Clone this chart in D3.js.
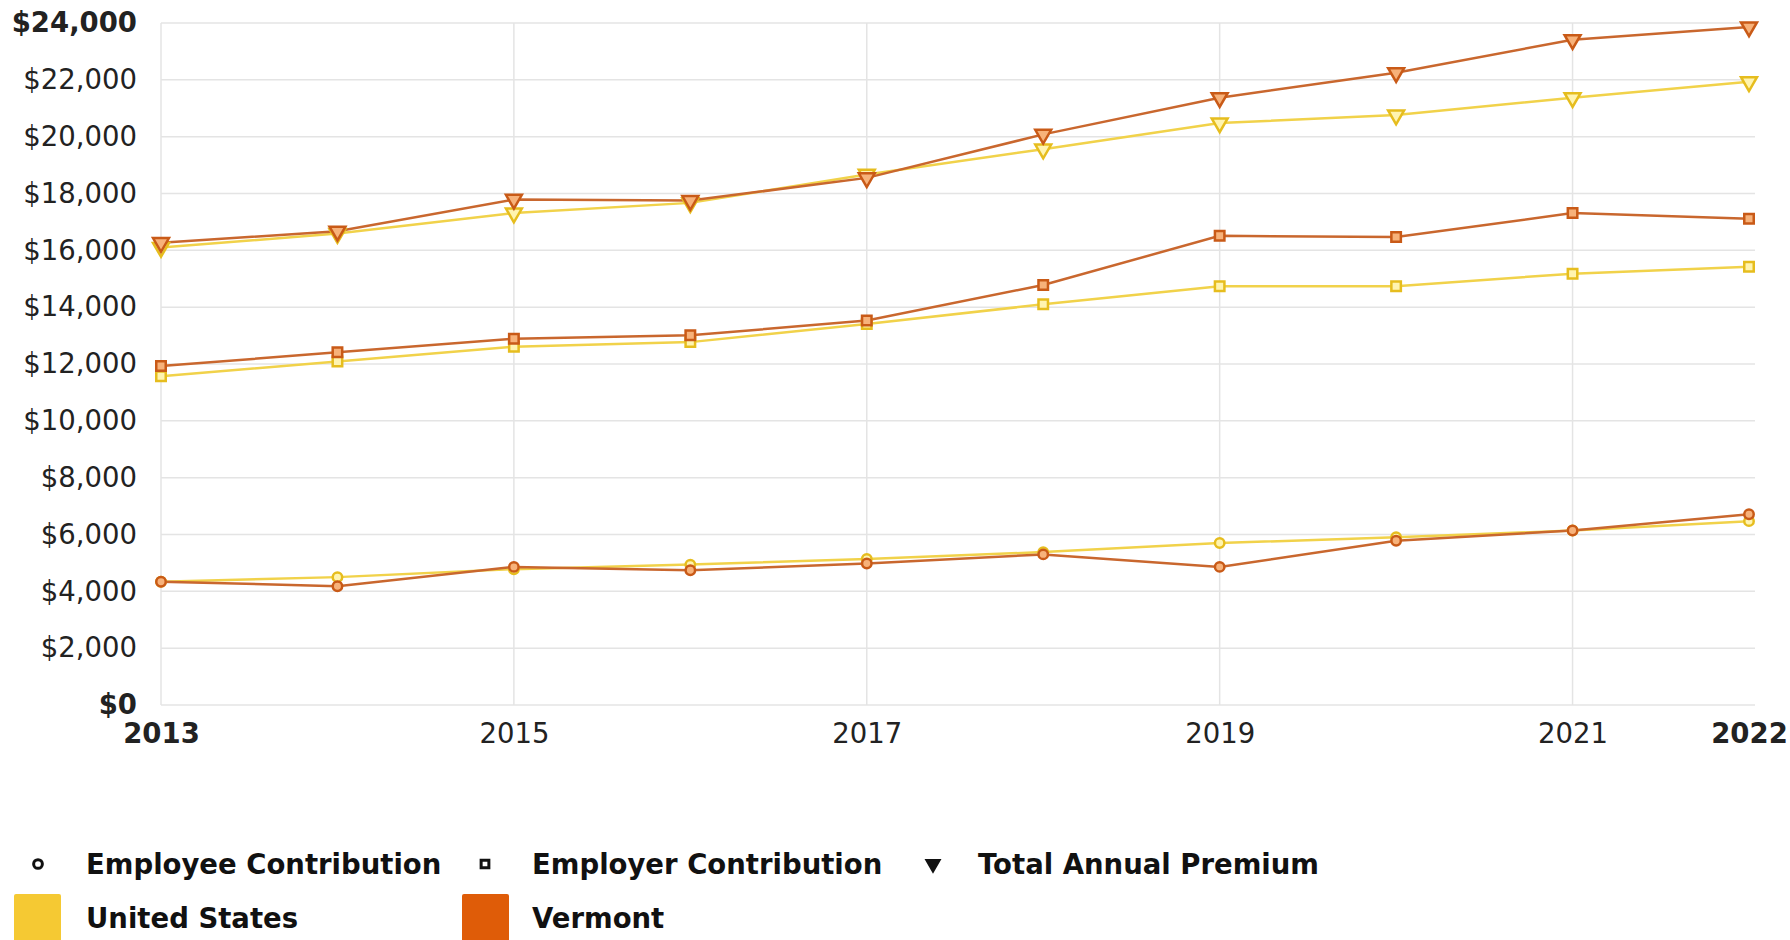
<!DOCTYPE html>
<html>
<head>
<meta charset="utf-8">
<script src="https://cdn.jsdelivr.net/npm/d3@7"></script>
<style>
    body { margin: 0; background: #fff; }
    svg { display: block; font-family: "DejaVu Sans", sans-serif; }
    .gridLine { stroke: #e4e4e4; stroke-width: 1.5; }
    .tickText { fill: #222; font-size: 27.5px; font-family: "DejaVu Sans", sans-serif; }
    .legendText { fill: #111; font-size: 27.5px; font-weight: bold; }
</style>
</head>
<body>
<div id="chartContainer"></div>
<script>
/***** Chart values */

const years = [2013, 2014, 2015, 2016, 2017, 2018, 2019, 2020, 2021, 2022];
const xTickYears = [2013, 2015, 2017, 2019, 2021, 2022];
const yTickValues = [0, 2000, 4000, 6000, 8000, 10000, 12000, 14000, 16000, 18000, 20000, 22000, 24000];

const usEmployee = [4340, 4500, 4780, 4940, 5140, 5380, 5700, 5900, 6140, 6470];
const usEmployer = [11570, 12090, 12610, 12770, 13410, 14100, 14740, 14740, 15180, 15420];
const usTotal = [16100, 16590, 17310, 17670, 18670, 19560, 20480, 20760, 21370, 21930];

const vtEmployee = [4340, 4180, 4860, 4740, 4980, 5300, 4860, 5780, 6140, 6710];
const vtEmployer = [11930, 12410, 12890, 13010, 13530, 14780, 16510, 16470, 17310, 17110];
const vtTotal = [16270, 16670, 17790, 17750, 18550, 20080, 21370, 22250, 23410, 23860];

const measureNames = ['Employee Contribution', 'Employer Contribution', 'Total Annual Premium'];
const regionNames = ['United States', 'Vermont'];

/***** Drawing */

const width = 1790;
const height = 940;
const margin = { top: 23, right: 41, bottom: 235, left: 161 };

const regionStyles = {
    'United States': { line: '#f1d24a', stroke: '#e6bd1e', fill: '#fff4b0', swatch: '#f5c933' },
    'Vermont': { line: '#c9672e', stroke: '#c95a17', fill: '#f7b27a', swatch: '#df5c08' }
};

const series = [
    { region: 'United States', measure: 'Employee Contribution', values: usEmployee },
    { region: 'United States', measure: 'Employer Contribution', values: usEmployer },
    { region: 'United States', measure: 'Total Annual Premium', values: usTotal },
    { region: 'Vermont', measure: 'Employee Contribution', values: vtEmployee },
    { region: 'Vermont', measure: 'Employer Contribution', values: vtEmployer },
    { region: 'Vermont', measure: 'Total Annual Premium', values: vtTotal }
];

const svg = d3.select('#chartContainer').append('svg')
    .attr('width', width)
    .attr('height', height);

const x = d3.scaleLinear()
    .domain([2013, 2022])
    .range([margin.left, width - margin.right]);

const y = d3.scaleLinear()
    .domain([0, 24000])
    .range([height - margin.bottom, margin.top]);

// horizontal grid
svg.append('g')
    .selectAll('line')
    .data(yTickValues)
    .join('line')
    .attr('class', 'gridLine')
    .attr('x1', x(2013))
    .attr('x2', x(2022) + 6)
    .attr('y1', d => y(d))
    .attr('y2', d => y(d));

// vertical grid, not at the last year
svg.append('g')
    .selectAll('line')
    .data(xTickYears.filter(yr => yr !== 2022))
    .join('line')
    .attr('class', 'gridLine')
    .attr('x1', d => x(d))
    .attr('x2', d => x(d))
    .attr('y1', y(24000))
    .attr('y2', y(0));

// y axis labels (first and last are bold)
const yAxis = d3.axisLeft(y)
    .tickValues(yTickValues)
    .tickSize(0)
    .tickPadding(24)
    .tickFormat(d => '$' + d3.format(',')(d));
const yAxisGroup = svg.append('g')
    .attr('transform', `translate(${margin.left},0)`)
    .call(yAxis)
    .attr('font-family', null)
    .attr('font-size', null);
yAxisGroup.select('.domain').remove();
yAxisGroup.selectAll('text')
    .attr('class', 'tickText')
    .style('font-weight', d => (d === 0 || d === 24000) ? 'bold' : 'normal');

// x axis labels
const xAxis = d3.axisBottom(x)
    .tickValues(xTickYears)
    .tickSize(0)
    .tickPadding(18)
    .tickFormat(d3.format('d'));
const xAxisGroup = svg.append('g')
    .attr('transform', `translate(0,${y(0)})`)
    .call(xAxis)
    .attr('font-family', null)
    .attr('font-size', null);
xAxisGroup.select('.domain').remove();
xAxisGroup.selectAll('text')
    .attr('class', 'tickText')
    .style('font-weight', d => (d === 2013 || d === 2022) ? 'bold' : 'normal');

// lines
const lineGen = d3.line()
    .x((v, i) => x(years[i]))
    .y(v => y(v));

svg.append('g')
    .selectAll('path')
    .data(series)
    .join('path')
    .attr('fill', 'none')
    .attr('stroke', s => regionStyles[s.region].line)
    .attr('stroke-width', 2.5)
    .attr('d', s => lineGen(s.values));

// markers
const symbolFor = {
    'Employee Contribution': d3.symbol().type(d3.symbolCircle).size(70),
    'Employer Contribution': d3.symbol().type(d3.symbolSquare).size(90),
    'Total Annual Premium': d3.symbol().type(d3.symbolTriangle).size(110)
};

series.forEach((s) => {
    const style = regionStyles[s.region];
    svg.append('g')
        .selectAll('path')
        .data(s.values)
        .join('path')
        .attr('d', symbolFor[s.measure])
        .attr('transform', (v, i) => {
            const rot = s.measure === 'Total Annual Premium' ? ' rotate(180)' : '';
            return `translate(${x(years[i])},${y(v)})${rot}`;
        })
        .attr('fill', style.fill)
        .attr('stroke', style.stroke)
        .attr('stroke-width', 2.5);
});

// legend row 1: marker shapes
const legendShapeX = [38, 485, 933];
const legendTextX = [86, 532, 978];
const legend1 = svg.append('g').attr('transform', 'translate(0,864)');
measureNames.forEach((name, i) => {
    legend1.append('path')
        .attr('d', d3.symbol().type([d3.symbolCircle, d3.symbolSquare, d3.symbolTriangle][i]).size(60))
        .attr('transform', `translate(${legendShapeX[i]},0)` + (i === 2 ? ' rotate(180)' : ''))
        .attr('fill', i === 2 ? '#111' : '#fff')
        .attr('stroke', '#111')
        .attr('stroke-width', 3);
    legend1.append('text')
        .attr('class', 'legendText')
        .attr('x', legendTextX[i])
        .attr('dy', '0.35em')
        .text(name);
});

// legend row 2: region swatches
const swatchX = [14, 462];
const legend2 = svg.append('g').attr('transform', 'translate(0,918)');
regionNames.forEach((name, i) => {
    legend2.append('rect')
        .attr('x', swatchX[i])
        .attr('y', -24)
        .attr('width', 47)
        .attr('height', 50)
        .attr('rx', 2)
        .attr('fill', regionStyles[name].swatch);
    legend2.append('text')
        .attr('class', 'legendText')
        .attr('x', legendTextX[i])
        .attr('dy', '0.35em')
        .text(name);
});
</script>
</body>
</html>
